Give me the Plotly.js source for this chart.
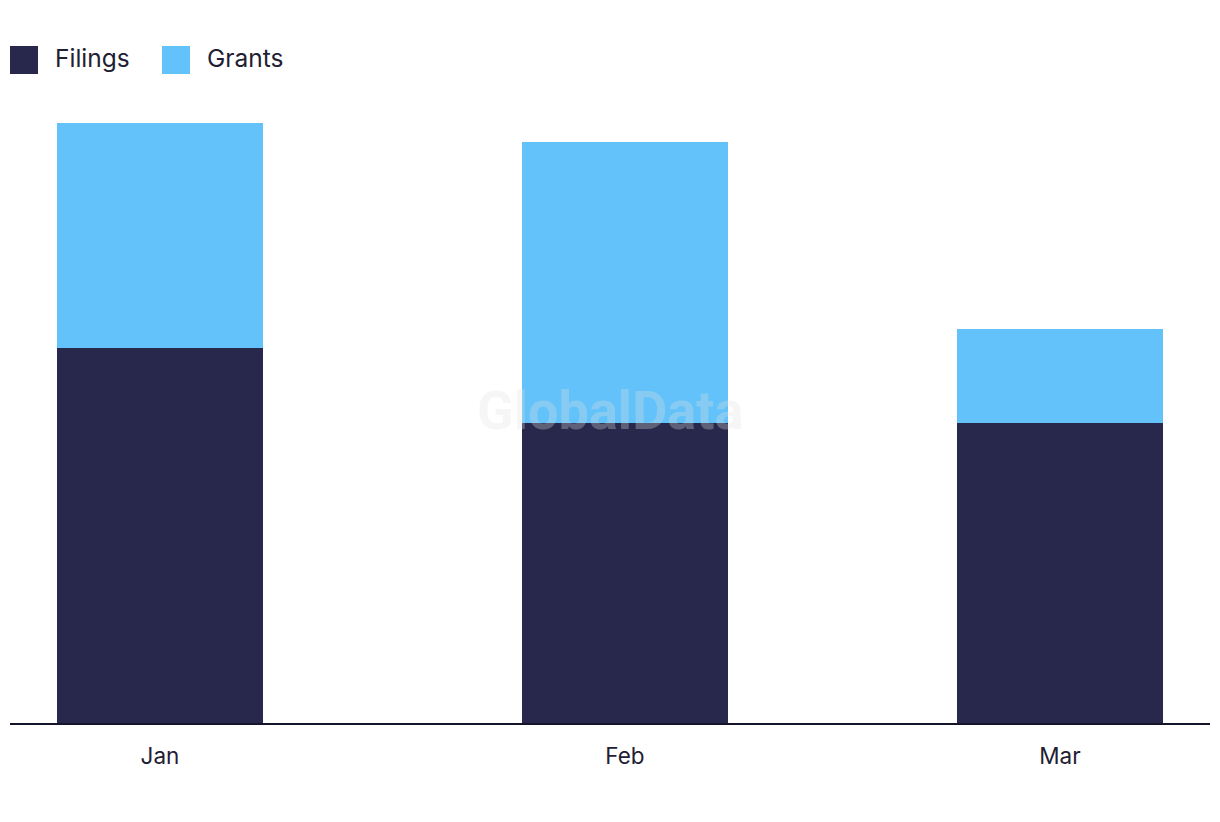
<!DOCTYPE html>
<html>
<head>
<meta charset="utf-8">
<script src="https://cdn.plot.ly/plotly-3.0.1.min.js"></script>
<style>html,body{margin:0;padding:0;background:#fff;}#chart{width:1220px;height:822px;}</style>
</head>
<body>
<div id="chart"></div>
<script>
// Month positions (2024, leap year) and labels
const months = ['2024-01-01', '2024-02-01', '2024-03-01'];
const monthLabels = ['Jan', 'Feb', 'Mar'];
const filings = [20, 16, 16];
const grants = [12, 15, 5];
const seriesNames = ['Filings', 'Grants'];
const seriesColors = ['#27284b', '#62c2f9'];

const DAY = 86400000;
const barWidth = 13.75 * DAY;
const FONT = 'Inter, "Noto Sans", sans-serif';

const traces = [
  {type: 'bar', x: months, y: filings, name: seriesNames[0], width: barWidth,
   marker: {color: seriesColors[0]}, hoverinfo: 'x+y+name'},
  {type: 'bar', x: months, y: grants, name: seriesNames[1], width: barWidth,
   marker: {color: seriesColors[1]}, hoverinfo: 'x+y+name'}
];

// custom legend (large square swatches)
const shapes = [];
const annotations = [];
const legendX = [10, 162];
seriesNames.forEach((n, i) => {
  shapes.push({type: 'rect', xref: 'paper', yref: 'paper', layer: 'above',
    x0: (legendX[i] - 10) / 1200, x1: (legendX[i] + 18) / 1200,
    y0: (723 - 74) / 619 , y1: (723 - 46) / 619,
    line: {width: 0}, fillcolor: seriesColors[i]});
  annotations.push({xref: 'paper', yref: 'paper', x: (legendX[i] + 33) / 1200,
    y: (723 - 58) / 619, xanchor: 'left', yanchor: 'middle', showarrow: false,
    text: n, font: {family: FONT, size: 24.5, color: '#1f2033'}});
});
annotations.push({xref: 'paper', yref: 'paper', x: 0.5, y: (723 - 411) / 619,
  xanchor: 'center', yanchor: 'middle', showarrow: false, text: '<b>GlobalData</b>',
  font: {family: 'Roboto, sans-serif', size: 54, color: 'rgba(225,225,225,0.3)'}});

const layout = {
  width: 1220, height: 822,
  margin: {l: 10, r: 10, t: 104, b: 99},
  paper_bgcolor: '#fff', plot_bgcolor: '#fff',
  barmode: 'stack',
  showlegend: false,
  font: {family: FONT, size: 22, color: '#1f2033'},
  xaxis: {type: 'date', range: ['2023-12-22', '2024-03-11'],
    tickmode: 'array', tickvals: months, ticktext: monthLabels,
    showgrid: false, zeroline: false, showline: true, linecolor: '#14142b', linewidth: 2,
    ticks: 'outside', ticklen: 12, tickcolor: 'rgba(0,0,0,0)',
    tickfont: {family: FONT, size: 22.5, color: '#1f2033'}, fixedrange: true},
  yaxis: {range: [0, 33], visible: false, showgrid: false, zeroline: false, fixedrange: true},
  shapes: shapes,
  annotations: annotations
};

Plotly.newPlot('chart', traces, layout, {displayModeBar: false, staticPlot: true});
</script>
</body>
</html>
